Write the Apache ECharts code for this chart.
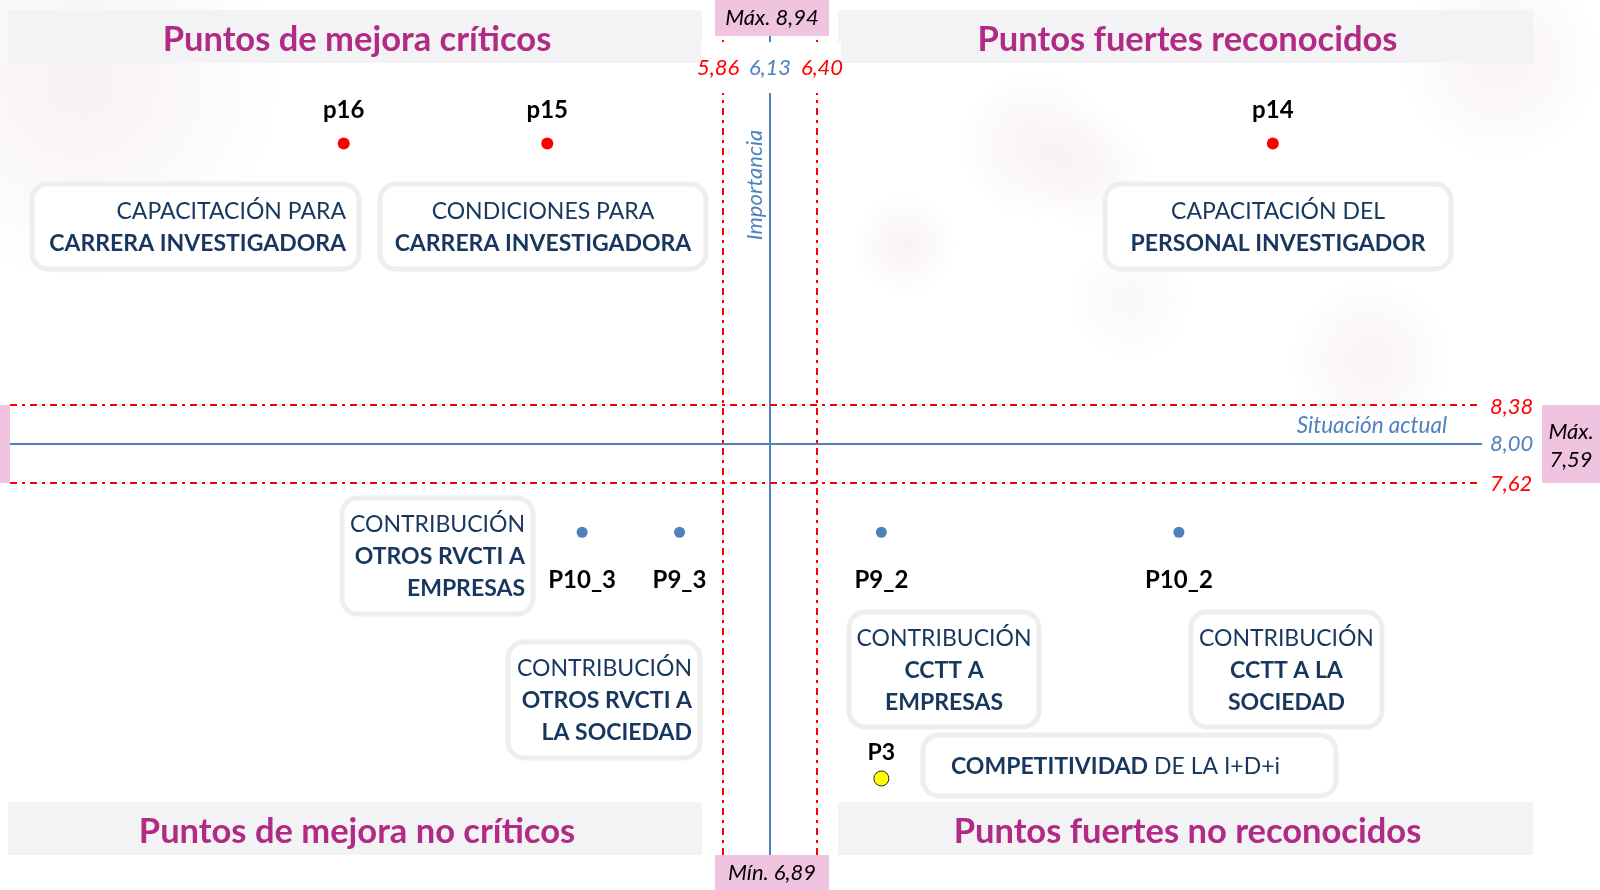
<!DOCTYPE html>
<html><head><meta charset="utf-8">
<script src="https://cdn.jsdelivr.net/npm/echarts@6/dist/echarts.min.js"></script>
<style>html,body{margin:0;padding:0;background:#fff}#c{width:1600px;height:890px}</style>
</head><body><div id="c"></div>
<script>
// ---------- DATA ----------
const critNames = ['p16', 'p15', 'p14'];
const critX = [3.68, 4.85, 9.02];
const critY = [10.93, 10.93, 10.93];

const midNames = ['P10_3', 'P9_3', 'P9_2', 'P10_2'];
const midX = [5.05, 5.61, 6.77, 8.48];
const midY = [7.14, 7.14, 7.14, 7.14];

const lowNames = ['P3'];
const lowX = [6.77];
const lowY = [4.74];

const vLineValues = [5.86, 6.13, 6.40];
const vLineLabels = ['5,86', '6,13', '6,40'];
const hLineValues = [8.38, 8.00, 7.62];
const hLineLabels = ['8,38', '8,00', '7,62'];

const topExtreme = 'Máx. 8,94';
const bottomExtreme = 'Mín. 6,89';
const rightExtreme = ['Máx.', '7,59'];

const vAxisName = 'Importancia';
const hAxisName = 'Situación actual';

const quadrantTitles = ['Puntos de mejora críticos', 'Puntos fuertes reconocidos', 'Puntos de mejora no críticos', 'Puntos fuertes no reconocidos'];

const boxRegular = ['CAPACITACIÓN PARA', 'CONDICIONES PARA', 'CAPACITACIÓN DEL', 'CONTRIBUCIÓN', 'CONTRIBUCIÓN', 'CONTRIBUCIÓN', 'CONTRIBUCIÓN', ' DE LA I+D+i'];
const boxBold = [['CARRERA INVESTIGADORA'], ['CARRERA INVESTIGADORA'], ['PERSONAL INVESTIGADOR'], ['OTROS RVCTI A', 'EMPRESAS'], ['OTROS RVCTI A', 'LA SOCIEDAD'], ['CCTT A', 'EMPRESAS'], ['CCTT A LA', 'SOCIEDAD'], ['COMPETITIVIDAD']];

// ---------- LAYOUT (not data) ----------
const X_MIN = 1.762, X_MAX = 10.222, Y_MIN = 3.994, Y_MAX = 11.977;
const boxLayout = [
  {cx: 2.828, cy: 10.12, w: 327, h: 85, align: 'right', inset: 13},
  {cx: 4.825, cy: 10.12, w: 326, h: 85, align: 'center'},
  {cx: 9.05,  cy: 10.12, w: 346, h: 85, align: 'center'},
  {cx: 4.219, cy: 6.908, w: 191, h: 116, align: 'right', inset: 8},
  {cx: 5.176, cy: 5.505, w: 192, h: 116, align: 'right', inset: 8},
  {cx: 7.13,  cy: 5.802, w: 190, h: 115, align: 'center'},
  {cx: 9.098, cy: 5.802, w: 191, h: 115, align: 'center'},
  {cx: 8.196, cy: 4.867, w: 413, h: 61, align: 'left', inset: 28, inline: true}
];

const FONT = 'Lato, "Open Sans", sans-serif';
const RED = '#ff0000', BLUE = '#4f81bd', NAVY = '#17375e', MAGENTA = '#b12a84', PINK = '#f0c4e0';
const DASH = [7, 5, 3, 5];

const chart = echarts.init(document.getElementById('c'), null, {renderer: 'canvas'});

const toData = (names, xs, ys) => xs.map((x, i) => ({name: names[i], value: [x, ys[i]]}));

const markLines = [];
vLineValues.forEach((v, i) => markLines.push({xAxis: v, lineStyle: i === 1 ? {color: BLUE, width: 2, type: 'solid'} : {color: RED, width: 2, type: DASH}}));
hLineValues.forEach((v, i) => markLines.push({yAxis: v, lineStyle: i === 1 ? {color: BLUE, width: 2, type: 'solid'} : {color: RED, width: 2, type: DASH}}));

const ptLabel = (pos, dist, size) => ({show: true, position: pos, distance: dist, formatter: '{b}', fontFamily: FONT, fontWeight: 'bold', fontSize: size, color: '#000000', opacity: 1, textBorderWidth: 0});

chart.setOption({
  animation: false,
  backgroundColor: '#ffffff',
  grid: {left: 10, right: 118, top: 36, bottom: 35},
  xAxis: {type: 'value', min: X_MIN, max: X_MAX, show: false},
  yAxis: {type: 'value', min: Y_MIN, max: Y_MAX, show: false},
  series: [
    {
      type: 'scatter', name: 'críticos', data: toData(critNames, critX, critY),
      symbolSize: 12, itemStyle: {color: RED, opacity: 1},
      label: ptLabel('top', 15, 24),
      markLine: {silent: true, symbol: ['none', 'none'], label: {show: false}, data: markLines, z: 2}
    },
    {
      type: 'scatter', name: 'contribución', data: toData(midNames, midX, midY),
      symbolSize: 11, itemStyle: {color: BLUE, opacity: 1},
      label: ptLabel('bottom', 31, 24)
    },
    {
      type: 'scatter', name: 'competitividad', data: toData(lowNames, lowX, lowY),
      symbolSize: 15, itemStyle: {color: '#ffff00', borderColor: '#222', borderWidth: 1, opacity: 1},
      label: ptLabel('top', 6, 23)
    }
  ]
});

const px = v => chart.convertToPixel({gridIndex: 0}, [v, Y_MIN])[0];
const py = v => chart.convertToPixel({gridIndex: 0}, [X_MIN, v])[1];

const G = [];
const RG = (c) => new echarts.graphic.RadialGradient(0.5, 0.5, 0.5, [{offset: 0, color: c}, {offset: 1, color: 'rgba(240,225,235,0)'}]);
// soft background blobs (very faint)
[[80, 80, 200, 'rgba(240,230,237,0.55)'], [905, 245, 50, 'rgba(244,232,240,0.55)'], [1035, 145, 75, 'rgba(244,234,240,0.55)'], [1090, 170, 60, 'rgba(244,234,240,0.45)'],
 [1370, 360, 80, 'rgba(244,234,240,0.55)'], [1500, 60, 100, 'rgba(244,234,240,0.55)'], [1130, 300, 60, 'rgba(246,238,243,0.4)']].forEach(b => {
  G.push({type: 'circle', silent: true, z: 0, shape: {cx: b[0], cy: b[1], r: b[2]}, style: {fill: RG(b[3])}});
});

// quadrant bands and titles
const bands = [[8, 10, 694, 53], [838, 10, 695, 53], [8, 802, 694, 53], [838, 802, 695, 53]];
bands.forEach((b, i) => {
  G.push({type: 'rect', silent: true, z: 1, shape: {x: b[0], y: b[1], width: b[2], height: b[3]}, style: {fill: 'rgba(242,242,244,0.9)'}});
  G.push({type: 'text', silent: true, z: 3, style: {text: quadrantTitles[i], x: b[0] + b[2] / 2 + 2, y: b[1] + b[3] / 2 + 3, fill: MAGENTA, fontFamily: FONT, fontWeight: 'bold', fontSize: 34.5, align: 'center', verticalAlign: 'middle', textAlign: 'center', textVerticalAlign: 'middle'}});
});

// white box behind vertical line labels
const vx = vLineValues.map(px);
G.push({type: 'rect', silent: true, z: 10, shape: {x: vx[0] - 22, y: 42, width: vx[2] - vx[0] + 46, height: 51}, style: {fill: '#ffffff'}});
const vOff = [-5, 0, 5];
vLineLabels.forEach((t, i) => {
  G.push({type: 'text', silent: true, z: 11, style: {text: t, x: vx[i] + vOff[i], y: 68, fill: i === 1 ? BLUE : RED, fontFamily: FONT, fontStyle: 'italic', fontSize: 22, align: 'center', verticalAlign: 'middle', textAlign: 'center', textVerticalAlign: 'middle'}});
});

// horizontal line labels on the right
const hy = hLineValues.map(py);
const xEnd = px(X_MAX);
hLineLabels.forEach((t, i) => {
  G.push({type: 'text', silent: true, z: 11, style: {text: t, x: xEnd + 8, y: hy[i] + (i === 0 ? 2 : (i === 2 ? 1 : 0)), fill: i === 1 ? BLUE : RED, fontFamily: FONT, fontStyle: 'italic', fontSize: 22, align: 'left', verticalAlign: 'middle', textAlign: 'left', textVerticalAlign: 'middle'}});
});

// axis names
G.push({type: 'text', silent: true, z: 11, rotation: Math.PI / 2, x: vx[1] - 15, y: 185, style: {text: vAxisName, x: 0, y: 0, fill: BLUE, fontFamily: FONT, fontStyle: 'italic', fontSize: 22, align: 'center', verticalAlign: 'middle', textAlign: 'center', textVerticalAlign: 'middle'}});
G.push({type: 'text', silent: true, z: 11, style: {text: hAxisName, x: xEnd - 35, y: hy[1] - 18, fill: BLUE, fontFamily: FONT, fontStyle: 'italic', fontSize: 22.5, align: 'right', verticalAlign: 'middle', textAlign: 'right', textVerticalAlign: 'middle'}});

// pink extreme boxes
const gTop = py(Y_MAX), gBot = py(Y_MIN);
G.push({type: 'rect', silent: true, z: 12, shape: {x: vx[1] - 55, y: 0, width: 114, height: gTop}, style: {fill: PINK}});
G.push({type: 'text', silent: true, z: 13, style: {text: topExtreme, x: vx[1] + 2, y: gTop / 2, fill: '#000', fontFamily: FONT, fontStyle: 'italic', fontSize: 22, align: 'center', verticalAlign: 'middle', textAlign: 'center', textVerticalAlign: 'middle'}});
G.push({type: 'rect', silent: true, z: 12, shape: {x: vx[1] - 55, y: gBot, width: 114, height: 890 - gBot}, style: {fill: PINK}});
G.push({type: 'text', silent: true, z: 13, style: {text: bottomExtreme, x: vx[1] + 2, y: (gBot + 890) / 2, fill: '#000', fontFamily: FONT, fontStyle: 'italic', fontSize: 22, align: 'center', verticalAlign: 'middle', textAlign: 'center', textVerticalAlign: 'middle'}});
G.push({type: 'rect', silent: true, z: 12, shape: {x: 1542, y: hy[0], width: 58, height: hy[2] - hy[0]}, style: {fill: PINK}});
G.push({type: 'text', silent: true, z: 13, style: {text: rightExtreme.join('\n'), x: 1571, y: (hy[0] + hy[2]) / 2 + 2, fill: '#000', fontFamily: FONT, fontStyle: 'italic', fontSize: 22, lineHeight: 28, align: 'center', verticalAlign: 'middle', textAlign: 'center', textVerticalAlign: 'middle'}});
G.push({type: 'rect', silent: true, z: 12, shape: {x: 0, y: hy[0], width: 10, height: hy[2] - hy[0]}, style: {fill: PINK}});

// annotation boxes
const rich = {
  r: {fontFamily: FONT, fontSize: 23, fontWeight: 'normal', fill: NAVY, color: NAVY, lineHeight: 32},
  b: {fontFamily: FONT, fontSize: 23, fontWeight: 'bold', fill: NAVY, color: NAVY, lineHeight: 32}
};
boxLayout.forEach((L, i) => {
  const cx = px(L.cx), cy = py(L.cy);
  const x0 = cx - L.w / 2, y0 = cy - L.h / 2;
  G.push({type: 'rect', silent: true, z: 5, shape: {x: x0, y: y0, width: L.w, height: L.h, r: 16}, style: {fill: '#ffffff', stroke: '#eeeeee', lineWidth: 5}});
  let text;
  if (L.inline) text = boxBold[i].map(s => '{b|' + s + '}').join('') + '{r|' + boxRegular[i] + '}';
  else text = ['{r|' + boxRegular[i] + '}'].concat(boxBold[i].map(s => '{b|' + s + '}')).join('\n');
  let tx = cx;
  if (L.align === 'right') tx = x0 + L.w - L.inset;
  if (L.align === 'left') tx = x0 + L.inset;
  G.push({type: 'text', silent: true, z: 6, style: {text: text, rich: rich, fill: NAVY, x: tx, y: cy + 1, align: L.align, verticalAlign: 'middle', textAlign: L.align, textVerticalAlign: 'middle'}});
});

chart.setOption({graphic: {elements: G}});
</script></body></html>
